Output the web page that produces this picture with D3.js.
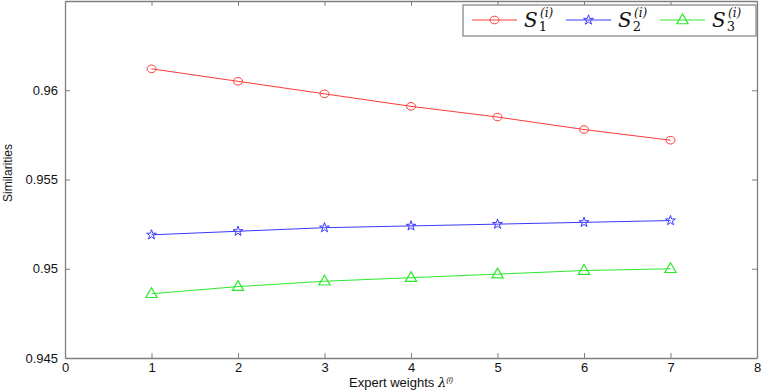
<!DOCTYPE html>
<html>
<head>
<meta charset="utf-8">
<script src="https://cdn.jsdelivr.net/npm/d3@7"></script>
<style>
  body { margin: 0; background: #fff; }
  text { font-family: "Liberation Sans", Arial, sans-serif; }
</style>
</head>
<body>
<svg></svg>
<script>
// data
let weights = [1, 2, 3, 4, 5, 6, 7]
let s1 = [0.9612, 0.9605, 0.9598, 0.9591, 0.9585, 0.9578, 0.9572]
let s2 = [0.9519, 0.9521, 0.9523, 0.9524, 0.9525, 0.9526, 0.9527]
let s3 = [0.9486, 0.9490, 0.9493, 0.9495, 0.9497, 0.9499, 0.9500]
let xTicks = [0, 1, 2, 3, 4, 5, 6, 7, 8]
let yTicks = [0.945, 0.95, 0.955, 0.96, 0.965]
let yTickLabels = ['0.945', '0.95', '0.955', '0.96', '']
let seriesNames = ['1', '2', '3']

let width = 762
let height = 390
let plotLeft = 65, plotRight = 757, plotTop = 1, plotBottom = 358

let svg = d3.select('svg').attr('width', width).attr('height', height)

let xScale = d3.scaleLinear().domain([0, 8]).range([plotLeft, plotRight])
let yScale = d3.scaleLinear().domain([0.945, 0.965]).range([plotBottom, plotTop])

let frameColor = '#7f7f7f'
let tickLen = 5

// axes (ticks point inward, MATLAB style)
let xAxis = d3.axisBottom(xScale).tickValues(xTicks).tickSizeInner(-tickLen).tickSizeOuter(0).tickPadding(5)
let gx = svg.append('g').attr('transform', 'translate(0,' + plotBottom + ')').call(xAxis)
let yAxis = d3.axisLeft(yScale).tickValues(yTicks).tickSizeInner(-tickLen).tickSizeOuter(0).tickPadding(7)
  .tickFormat((d, i) => yTickLabels[i])
let gy = svg.append('g').attr('transform', 'translate(' + plotLeft + ',0)').call(yAxis)
let gxTop = svg.append('g').attr('transform', 'translate(0,' + plotTop + ')')
  .call(d3.axisTop(xScale).tickValues(xTicks).tickSizeInner(-tickLen).tickSizeOuter(0).tickFormat(''))
let gyRight = svg.append('g').attr('transform', 'translate(' + plotRight + ',0)')
  .call(d3.axisRight(yScale).tickValues(yTicks).tickSizeInner(-tickLen).tickSizeOuter(0).tickFormat(''))

;[gx, gy, gxTop, gyRight].forEach(g => {
  g.select('.domain').attr('stroke', frameColor).attr('stroke-width', 1.3)
  g.selectAll('.tick line').attr('stroke', frameColor)
  g.selectAll('.tick text').attr('font-size', 13).attr('fill', '#111')
    .style('font-family', '"Liberation Sans", Arial, sans-serif')
})

// axis labels
svg.append('text')
  .attr('transform', 'translate(12,173) rotate(-90)')
  .attr('text-anchor', 'middle')
  .attr('font-size', 12)
  .attr('fill', '#111')
  .text('Similarities')

let xl = svg.append('text')
  .attr('x', 349).attr('y', 387)
  .attr('font-size', 13)
  .attr('fill', '#111')
xl.append('tspan').text('Expert weights ')
xl.append('tspan').attr('font-style', 'italic').style('font-family', '"DejaVu Serif", serif').text('λ')
xl.append('tspan').attr('font-size', 8).attr('dy', -5).attr('font-style', 'italic').text('(i)')

// series
let series = [
  { values: s1, color: '#ff3a3a', symbol: 'circle' },
  { values: s2, color: '#3a3aff', symbol: 'star' },
  { values: s3, color: '#2ee82e', symbol: 'triangle' }
]

let line = d3.line().x((d, i) => xScale(weights[i])).y(d => yScale(d))

let drawMarker = (g, kind, x, y, color) => {
  if (kind === 'circle') {
    g.append('ellipse').attr('cx', x).attr('cy', y).attr('rx', 4.5).attr('ry', 3.8)
      .attr('fill', 'none').attr('stroke', color).attr('stroke-width', 1)
  } else if (kind === 'star') {
    g.append('path').attr('d', d3.symbol(d3.symbolStar, 30)())
      .attr('transform', 'translate(' + x + ',' + y + ')')
      .attr('fill', 'none').attr('stroke', color).attr('stroke-width', 1)
  } else {
    g.append('path').attr('d', d3.symbol(d3.symbolTriangle, 55)())
      .attr('transform', 'translate(' + x + ',' + (y + 0.5) + ')')
      .attr('fill', 'none').attr('stroke', color).attr('stroke-width', 1.2)
  }
}

series.forEach(s => {
  let g = svg.append('g')
  g.append('path').datum(s.values).attr('d', line)
    .attr('fill', 'none').attr('stroke', s.color).attr('stroke-width', 1)
  s.values.forEach((v, i) => drawMarker(g, s.symbol, xScale(weights[i]), yScale(v), s.color))
})

// legend
let legend = svg.append('g')
legend.append('rect').attr('x', 463).attr('y', 5).attr('width', 293).attr('height', 31)
  .attr('fill', '#fff').attr('stroke', frameColor).attr('stroke-width', 1.2)

let legendX = [472, 566, 660]
series.forEach((s, i) => {
  let x0 = legendX[i]
  legend.append('line').attr('x1', x0).attr('x2', x0 + 45).attr('y1', 20).attr('y2', 20)
    .attr('stroke', s.color).attr('stroke-width', 1)
  drawMarker(legend, s.symbol, x0 + 22.5, 20, s.color)
  let t = legend.append('text').attr('x', x0 + 52).attr('y', 27)
    .style('font-family', '"DejaVu Serif", "Liberation Serif", serif').attr('fill', '#111')
  t.append('tspan').attr('font-size', 20).attr('font-style', 'italic').text('S')
  t.append('tspan').attr('font-size', 13).attr('dy', 4).attr('dx', 1).text(seriesNames[i])
  t.append('tspan').attr('font-size', 12).attr('font-style', 'italic').attr('dy', -14).attr('dx', -7).text('(i)')
})
</script>
</body>
</html>
